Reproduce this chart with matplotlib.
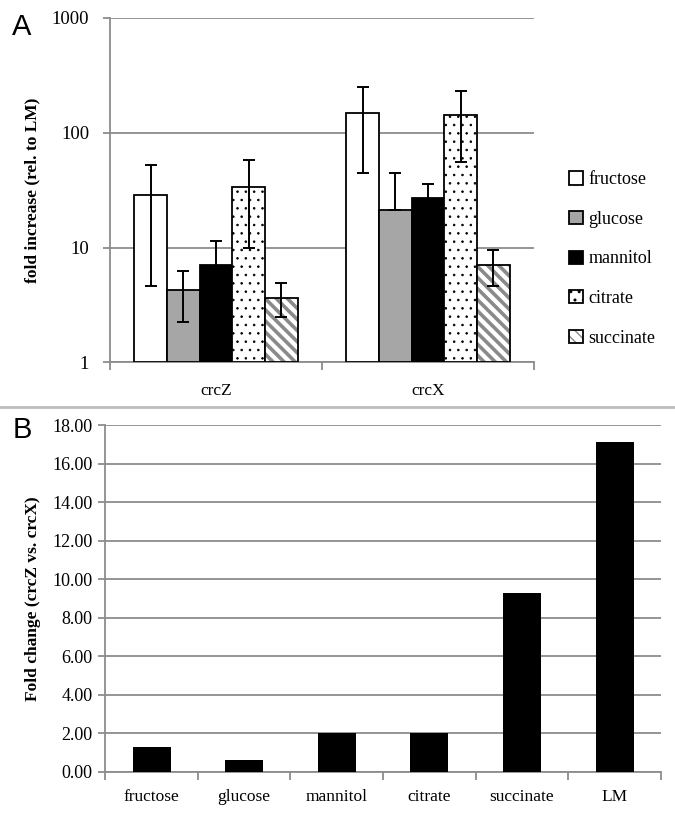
import numpy as np
import matplotlib.pyplot as plt
from matplotlib.patches import Patch
from matplotlib.lines import Line2D

# panel A data
groups = ['crcZ', 'crcX']
sugars = ['fructose', 'glucose', 'mannitol', 'citrate', 'succinate']
crcZ_mean = [28.6, 4.24, 7.0, 34.0, 3.66]
crcZ_err = [24.0, 2.0, 4.4, 24.0, 1.2]
crcX_mean = [148.0, 21.3, 26.9, 144.0, 7.1]
crcX_err = [103.0, 22.9, 9.0, 88.0, 2.5]

# panel B data
b_labels = ['fructose', 'glucose', 'mannitol', 'citrate', 'succinate', 'LM']
b_values = [1.31, 0.64, 2.04, 2.04, 9.27, 17.13]

serif = 'Liberation Serif'
sans = 'Liberation Sans'
grid_c = '#8c8c8c'

fig = plt.figure(figsize=(6.75, 8.16), dpi=100)

# ---------- panel A ----------
ax = fig.add_axes([0.163, 0.556, 0.628, 0.422])
means = np.array([crcZ_mean, crcX_mean])
errs = np.array([crcZ_err, crcX_err])
n = len(sugars)
w = 0.154
xc = np.arange(len(groups))
styles = [
    dict(facecolor='white', edgecolor='black', hatch=None),
    dict(facecolor='#a6a6a6', edgecolor='black', hatch=None),
    dict(facecolor='black', edgecolor='black', hatch=None),
    dict(facecolor='white', edgecolor='black', hatch='..'),
    dict(facecolor='white', edgecolor='#8a8a8a', hatch='\\\\\\'),
]
handles = []
for i in range(n):
    x = xc + (i - (n - 1) / 2) * w
    st = styles[i]
    h = means[:, i] - 1  # bars start at 1 on the log axis
    if i == 4:
        with plt.rc_context({'hatch.linewidth': 2.6}):
            ax.bar(x, h, w, bottom=1, facecolor='white',
                   edgecolor=st['edgecolor'], hatch=st['hatch'],
                   linewidth=0, zorder=3)
            hp = (Patch(facecolor='white', edgecolor='#8a8a8a', hatch='\\\\\\', linewidth=0),
                  Patch(fill=False, edgecolor='black', linewidth=1.3))
        ax.bar(x, h, w, bottom=1, fill=False, edgecolor='black',
               linewidth=1.3, zorder=3)
    else:
        with plt.rc_context({'hatch.linewidth': 0.6}):
            ax.bar(x, h, w, bottom=1, facecolor=st['facecolor'],
                   edgecolor=st['edgecolor'], hatch=st['hatch'], linewidth=1.3,
                   zorder=3)
            hp = Patch(facecolor=st['facecolor'], edgecolor='black',
                       hatch=st['hatch'], linewidth=1.3)
    low = np.where(means[:, i] - errs[:, i] > 0, errs[:, i], 0)
    ax.errorbar(x, means[:, i], yerr=[low, errs[:, i]], fmt='none', ecolor='black',
                elinewidth=1.4, capsize=4, capthick=1.4, zorder=4)
    handles.append(hp)

ax.set_yscale('log')
ax.set_ylim(1, 1000)
ax.set_xlim(-0.5, 1.5)
ax.yaxis.grid(True, color=grid_c, linewidth=1.3, zorder=0)
ax.set_axisbelow(True)
ax.set_yticks([1, 10, 100, 1000])
ax.set_yticklabels(['1', '10', '100', '1000'], fontfamily=serif, fontsize=13.5)
ax.yaxis.set_minor_locator(plt.NullLocator())
ax.set_xticks([-0.5, 0.5, 1.5])
ax.set_xticklabels([])
ax.set_xticks(xc, minor=True)
ax.set_xticklabels(groups, minor=True, fontfamily=serif, fontsize=12.5)
ax.tick_params(axis='x', which='minor', length=0, pad=15)
ax.tick_params(axis='x', which='major', length=6, color=grid_c, width=1.3)
ax.tick_params(axis='y', length=5, color=grid_c, width=1.3, pad=10)
for s in ['top', 'right']:
    ax.spines[s].set_visible(False)
for s in ['left', 'bottom']:
    ax.spines[s].set_color(grid_c)
    ax.spines[s].set_linewidth(1.3)
ax.set_ylabel('fold increase (rel. to LM)', fontfamily=serif, fontweight='bold',
              fontsize=12.5, labelpad=8)
ax.legend(handles, sugars, loc='center left', bbox_to_anchor=(1.045, 0.3),
          frameon=False, prop={'family': serif, 'size': 13},
          handlelength=0.75, handleheight=0.75, handletextpad=0.3,
          labelspacing=1.25)

# ---------- panel B ----------
bx = fig.add_axes([0.156, 0.054, 0.823, 0.425])
xb = np.arange(len(b_labels))
bx.bar(xb, b_values, 0.41, color='black', zorder=3)
bx.set_ylim(0, 18)
bx.set_xlim(-0.5, len(b_labels) - 0.5)
bx.set_yticks(np.arange(0, 19, 2))
bx.set_yticklabels(['%.2f' % v for v in np.arange(0, 19, 2)], fontfamily=serif,
                   fontsize=13)
bx.yaxis.grid(True, color=grid_c, linewidth=1.3, zorder=0)
bx.set_axisbelow(True)
bx.set_xticks(np.arange(-0.5, len(b_labels), 1))
bx.set_xticklabels([])
bx.set_xticks(xb, minor=True)
bx.set_xticklabels(b_labels, minor=True, fontfamily=serif, fontsize=12.5)
bx.tick_params(axis='x', which='minor', length=0, pad=12)
bx.tick_params(axis='x', which='major', length=6, color=grid_c, width=1.3)
bx.tick_params(axis='y', length=5, color=grid_c, width=1.3, pad=4)
for s in ['top', 'right']:
    bx.spines[s].set_visible(False)
for s in ['left', 'bottom']:
    bx.spines[s].set_color(grid_c)
    bx.spines[s].set_linewidth(1.3)
bx.set_ylabel('Fold change (crcZ vs. crcX)', fontfamily=serif, fontweight='bold',
              fontsize=12.5, labelpad=8)

# separator and panel letters
fig.add_artist(Line2D([0, 1], [1 - 407 / 816] * 2, color='#bdbdbd', linewidth=2))
fig.text(0.018, 0.984, 'A', fontfamily=sans, fontsize=21, va='top')
fig.text(0.018, 0.490, 'B', fontfamily=sans, fontsize=21, va='top')

fig.savefig('out.png', dpi=100)
